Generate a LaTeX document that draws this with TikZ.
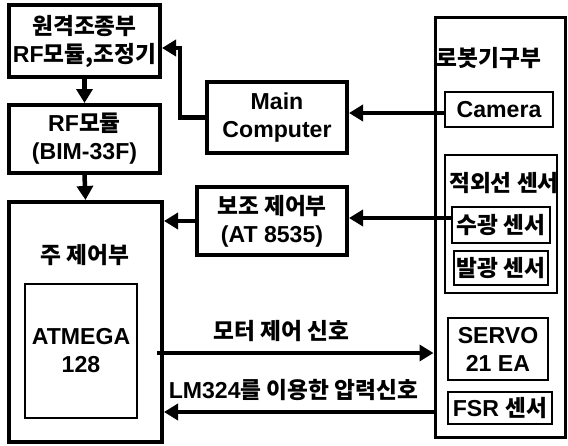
\documentclass[tikz,border=0pt]{standalone}
\usepackage{fontspec}
\setmainfont{Liberation Sans}[Scale=1.1]
\newfontfamily\krfont{Noto Sans CJK KR}[Scale=1.08]
\newcommand{\hg}[1]{{\krfont #1}}
\usetikzlibrary{arrows.meta,calc}

\begin{document}
\begin{tikzpicture}[x=1pt,y=-1pt,
  font=\bfseries\fontsize{21}{28}\selectfont,
  box/.style={draw, line width=4pt, inner sep=0pt, align=center},
  subbox/.style={draw, line width=2.5pt, inner sep=0pt, align=center},
  lbl/.style={inner sep=0pt, align=center},
  conn/.style={line width=4.5pt, -{Triangle[length=14pt,width=16pt]}}
]
\useasboundingbox[fill=white] (0,0) rectangle (568,445);

% left column
\node[box, minimum width=151pt, minimum height=72pt] (rc) at (84.5,41)
  {\hg{원격조종부}\\RF\hg{모듈,조정기}};
\node[box, minimum width=151pt, minimum height=68pt] (rf) at (84.5,139)
  {RF\hg{모듈}\\(BIM-33F)};
\node[box, minimum width=153pt, minimum height=240pt] (mainctl) at (85.5,322) {};
\node[lbl] (mainlbl) at (85,255) {\hg{주 제어부}};
\node[subbox, minimum width=112pt, minimum height=134pt] (atm) at (81,351)
  {ATMEGA\\128};

% middle column
\node[box, minimum width=140pt, minimum height=71pt] (mc) at (277,117.5)
  {Main\\Computer};
\node[box, minimum width=150pt, minimum height=68pt] (aux) at (272,221)
  {\hg{보조 제어부}\\(AT 8535)};

% robot mechanism
\node[draw, line width=3pt, minimum width=130pt, minimum height=420pt] (robot) at (500,227) {};
\node[lbl] (robotlbl) at (489,58) {\hg{로봇기구부}};
\node[subbox, minimum width=108pt, minimum height=35pt] (cam) at (499,109.5) {Camera};
\node[subbox, minimum width=112pt, minimum height=138pt] (ir) at (501,224) {};
\node[lbl] (irlbl) at (504,183) {\hg{적외선 센서}};
\node[subbox, minimum width=98pt, minimum height=36pt] (rx) at (501,225) {\hg{수광 센서}};
\node[subbox, minimum width=94pt, minimum height=34pt] (tx) at (501,268) {\hg{발광 센서}};
\node[subbox, minimum width=100pt, minimum height=62pt] (servo) at (498,349) {SERVO\\21 EA};
\node[subbox, minimum width=104pt, minimum height=32pt] (fsr) at (500,408) {FSR \hg{센서}};

% connectors
\draw[conn] (rc.south) -- (rf.north);
\draw[conn] (rf.south) -- (mainctl.north);
\coordinate (rcin) at ([yshift=-7pt]rc.east);
\draw[conn] (mc.west) -- ++(-25,0) |- (rcin);
\coordinate (camout) at ([yshift=-3.5pt]cam.west);
\draw[conn] (camout) -- (camout -| mc.east);
\coordinate (rxout) at ([yshift=7pt]rx.west);
\draw[conn] (rxout) -- (rxout -| aux.east);
\draw[conn] (aux.west) -- (aux.west -| mainctl.east);
\coordinate (motor) at ([yshift=-31pt,xshift=-7pt]mainctl.east);
\draw[conn] (motor) -- (motor -| robot.west)
  node[lbl, pos=0.45, above=9pt] (motorlbl) {\hg{모터 제어 신호}};
\coordinate (press) at ([yshift=-4pt]fsr.west -| robot.west);
\draw[conn] (press) -- (press -| mainctl.east)
  node[lbl, pos=0.52, above=9pt] (presslbl) {LM324\hg{를 이용한 압력신호}};
\end{tikzpicture}
\end{document}
